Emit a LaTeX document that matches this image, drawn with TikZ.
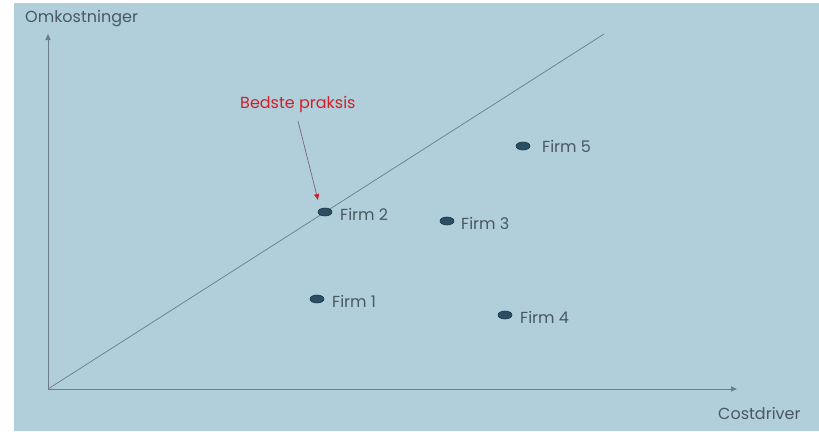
\documentclass[tikz,border=0pt]{standalone}
\usepackage{fontspec}
\setmainfont{Poppins}
\usetikzlibrary{arrows.meta,shapes.geometric}
\definecolor{bg}{HTML}{B0CFDA}
\definecolor{axis}{HTML}{6B7C86}
\definecolor{txt}{HTML}{4A5860}
\definecolor{dot}{HTML}{2C4E64}
\definecolor{dotline}{HTML}{1E3444}
\definecolor{redtxt}{HTML}{D0202A}
\definecolor{pointer}{HTML}{7A6A78}
\tikzset{
  firm/.style={ellipse, draw=dotline, fill=dot, line width=0.6pt, minimum width=14pt, minimum height=8pt, inner sep=0pt},
  lbl/.style={text=txt, font=\fontsize{16}{18}\selectfont, inner sep=0pt, anchor=west},
  ax/.style={draw=axis, line width=1pt, -{Triangle[length=6pt,width=5pt]}}
}
\begin{document}
\begin{tikzpicture}[x=1pt,y=-1pt]
\useasboundingbox (0,0) rectangle (819,431);
\fill[white] (0,0) rectangle (819,431);
\fill[bg] (14,3) rectangle (819,431);
\coordinate (O) at (48,389);
\coordinate (Y) at (48,34);
\coordinate (X) at (737,389);
\coordinate (D) at (604,34);
\draw[ax] (O) -- (Y);
\draw[ax] (O) -- (X);
\draw[axis, line width=0.7pt] (O) -- (D);
\node[lbl] (ylab) at (25,19) {Omkostninger};
\node[lbl] (xlab) at (718,413) {Costdriver};
\node[firm] (f1) at (317,299) {};
\node[firm] (f2) at (325,212) {};
\node[firm] (f3) at (447,221) {};
\node[firm] (f4) at (505,315) {};
\node[firm] (f5) at (523,146) {};
\node[lbl] (l1) at (332,301) {Firm 1};
\node[lbl] (l2) at (340,214) {Firm 2};
\node[lbl] (l3) at (461,223) {Firm 3};
\node[lbl] (l4) at (520,317) {Firm 4};
\node[lbl] (l5) at (542,146) {Firm 5};
\node[lbl, text=redtxt] (bp) at (240,104) {Bedste praksis};
\coordinate (bpstart) at (298,121);
\coordinate (bpend) at (318,200);
\draw[draw=pointer, line width=0.7pt, -{Triangle[length=6pt,width=5pt,color=redtxt,fill=redtxt]}] (bpstart) -- (bpend);
\end{tikzpicture}
\end{document}
